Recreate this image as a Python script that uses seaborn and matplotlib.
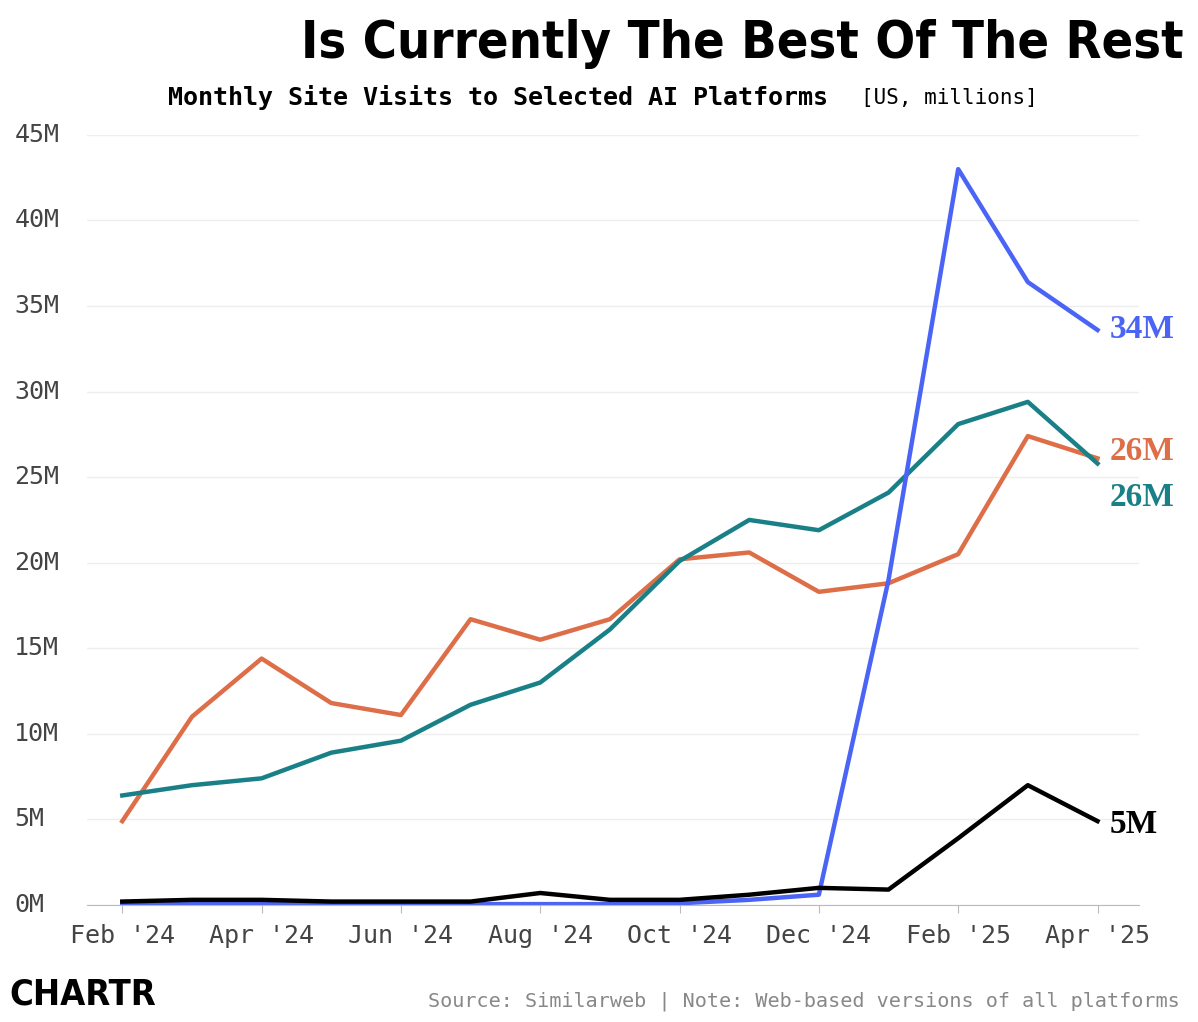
import matplotlib
matplotlib.use('Agg')
import matplotlib.pyplot as plt
import matplotlib.transforms as mtransforms
import pandas as pd
import seaborn as sns

# ---------------------------
# Data (US monthly visits, millions)
# ---------------------------
months = pd.date_range("2024-02-01", "2025-04-01", freq="MS")
orange = [4.9, 11.0, 14.4, 11.8, 11.1, 16.7, 15.5, 16.7, 20.2, 20.6, 18.3, 18.8, 20.5, 27.4, 26.1]
teal = [6.4, 7.0, 7.4, 8.9, 9.6, 11.7, 13.0, 16.1, 20.1, 22.5, 21.9, 24.1, 28.1, 29.4, 25.8]
blue = [0.1, 0.1, 0.05, 0.05, 0.05, 0.05, 0.05, 0.05, 0.1, 0.3, 0.6, 19.0, 43.0, 36.4, 33.6]
black = [0.2, 0.3, 0.3, 0.2, 0.2, 0.2, 0.7, 0.3, 0.3, 0.6, 1.0, 0.9, 3.9, 7.0, 4.9]
end_labels = ["34M", "26M", "26M", "5M"]
tick_labels = ["Feb '24", "Apr '24", "Jun '24", "Aug '24", "Oct '24", "Dec '24", "Feb '25", "Apr '25"]
y_ticks = list(range(0, 46, 5))

colors = {"orange": "#DD6E48", "teal": "#1A8087", "blue": "#4A64F5", "black": "#000000"}

df = pd.DataFrame({"month": list(range(len(months))) * 4,
                   "visits": orange + teal + blue + black,
                   "series": ["orange"] * 15 + ["teal"] * 15 + ["blue"] * 15 + ["black"] * 15})

# ---------------------------
# Plot
# ---------------------------
fig = plt.figure(figsize=(11.98, 10.22), dpi=100)
ax = fig.add_axes([0.073, 0.1145, 0.878, 0.7535])
sns.lineplot(data=df, x="month", y="visits", hue="series", palette=colors,
             linewidth=3.2, legend=False, ax=ax)

mono = "DejaVu Sans Mono"
ax.set_ylim(0, 45)
ax.set_xlim(-0.5, 14.6)
ax.set_yticks(y_ticks)
ax.set_yticklabels([])
ax.set_xticks(range(0, 15, 2))
ax.set_xticklabels(tick_labels, fontfamily=mono, fontsize=18, color="#444")
ax.set_xlabel("")
ax.set_ylabel("")
ax.grid(axis="y", color="#eeeeee", linewidth=1)
for s in ["top", "right", "left"]:
    ax.spines[s].set_visible(False)
ax.spines["bottom"].set_color("#bbbbbb")
ax.tick_params(axis="y", length=0)
ax.tick_params(axis="x", length=6, color="#bbbbbb", pad=8)

# y tick labels, left aligned at the figure edge
trans = mtransforms.blended_transform_factory(fig.transFigure, ax.transData)
for v in y_ticks:
    ax.text(0.012, v, f"{v}M", transform=trans, ha="left", va="center",
            fontfamily=mono, fontsize=18, color="#444")

# end labels
ends = [(blue[-1], "blue", 0), (orange[-1], "orange", 0.4), (teal[-1], "teal", -2.0), (black[-1], "black", -0.2)]
for (val, key, dy), text in zip(ends, end_labels):
    ax.text(14.18, val + dy, text, color=colors[key], fontfamily="Liberation Serif",
            fontweight="bold", fontsize=24, va="center", ha="left")

fig.text(0.988, 0.957, "Is Currently The Best Of The Rest", ha="right", va="center",
         fontfamily="DejaVu Sans", fontstretch="condensed", fontweight="bold", fontsize=37.5)
fig.text(0.14, 0.905, "Monthly Site Visits to Selected AI Platforms", ha="left", va="center",
         fontfamily=mono, fontweight="bold", fontsize=18)
fig.text(0.719, 0.904, "[US, millions]", ha="left", va="center", fontfamily=mono, fontsize=15)
fig.text(0.985, 0.02, "Source: Similarweb | Note: Web-based versions of all platforms",
         ha="right", va="center", fontfamily=mono, fontsize=14.5, color="#888")
fig.text(0.008, 0.027, "CHARTR", ha="left", va="center", fontfamily="DejaVu Sans",
         fontstretch="condensed", fontweight="bold", fontsize=26)

fig.savefig("out.png", dpi=100)
